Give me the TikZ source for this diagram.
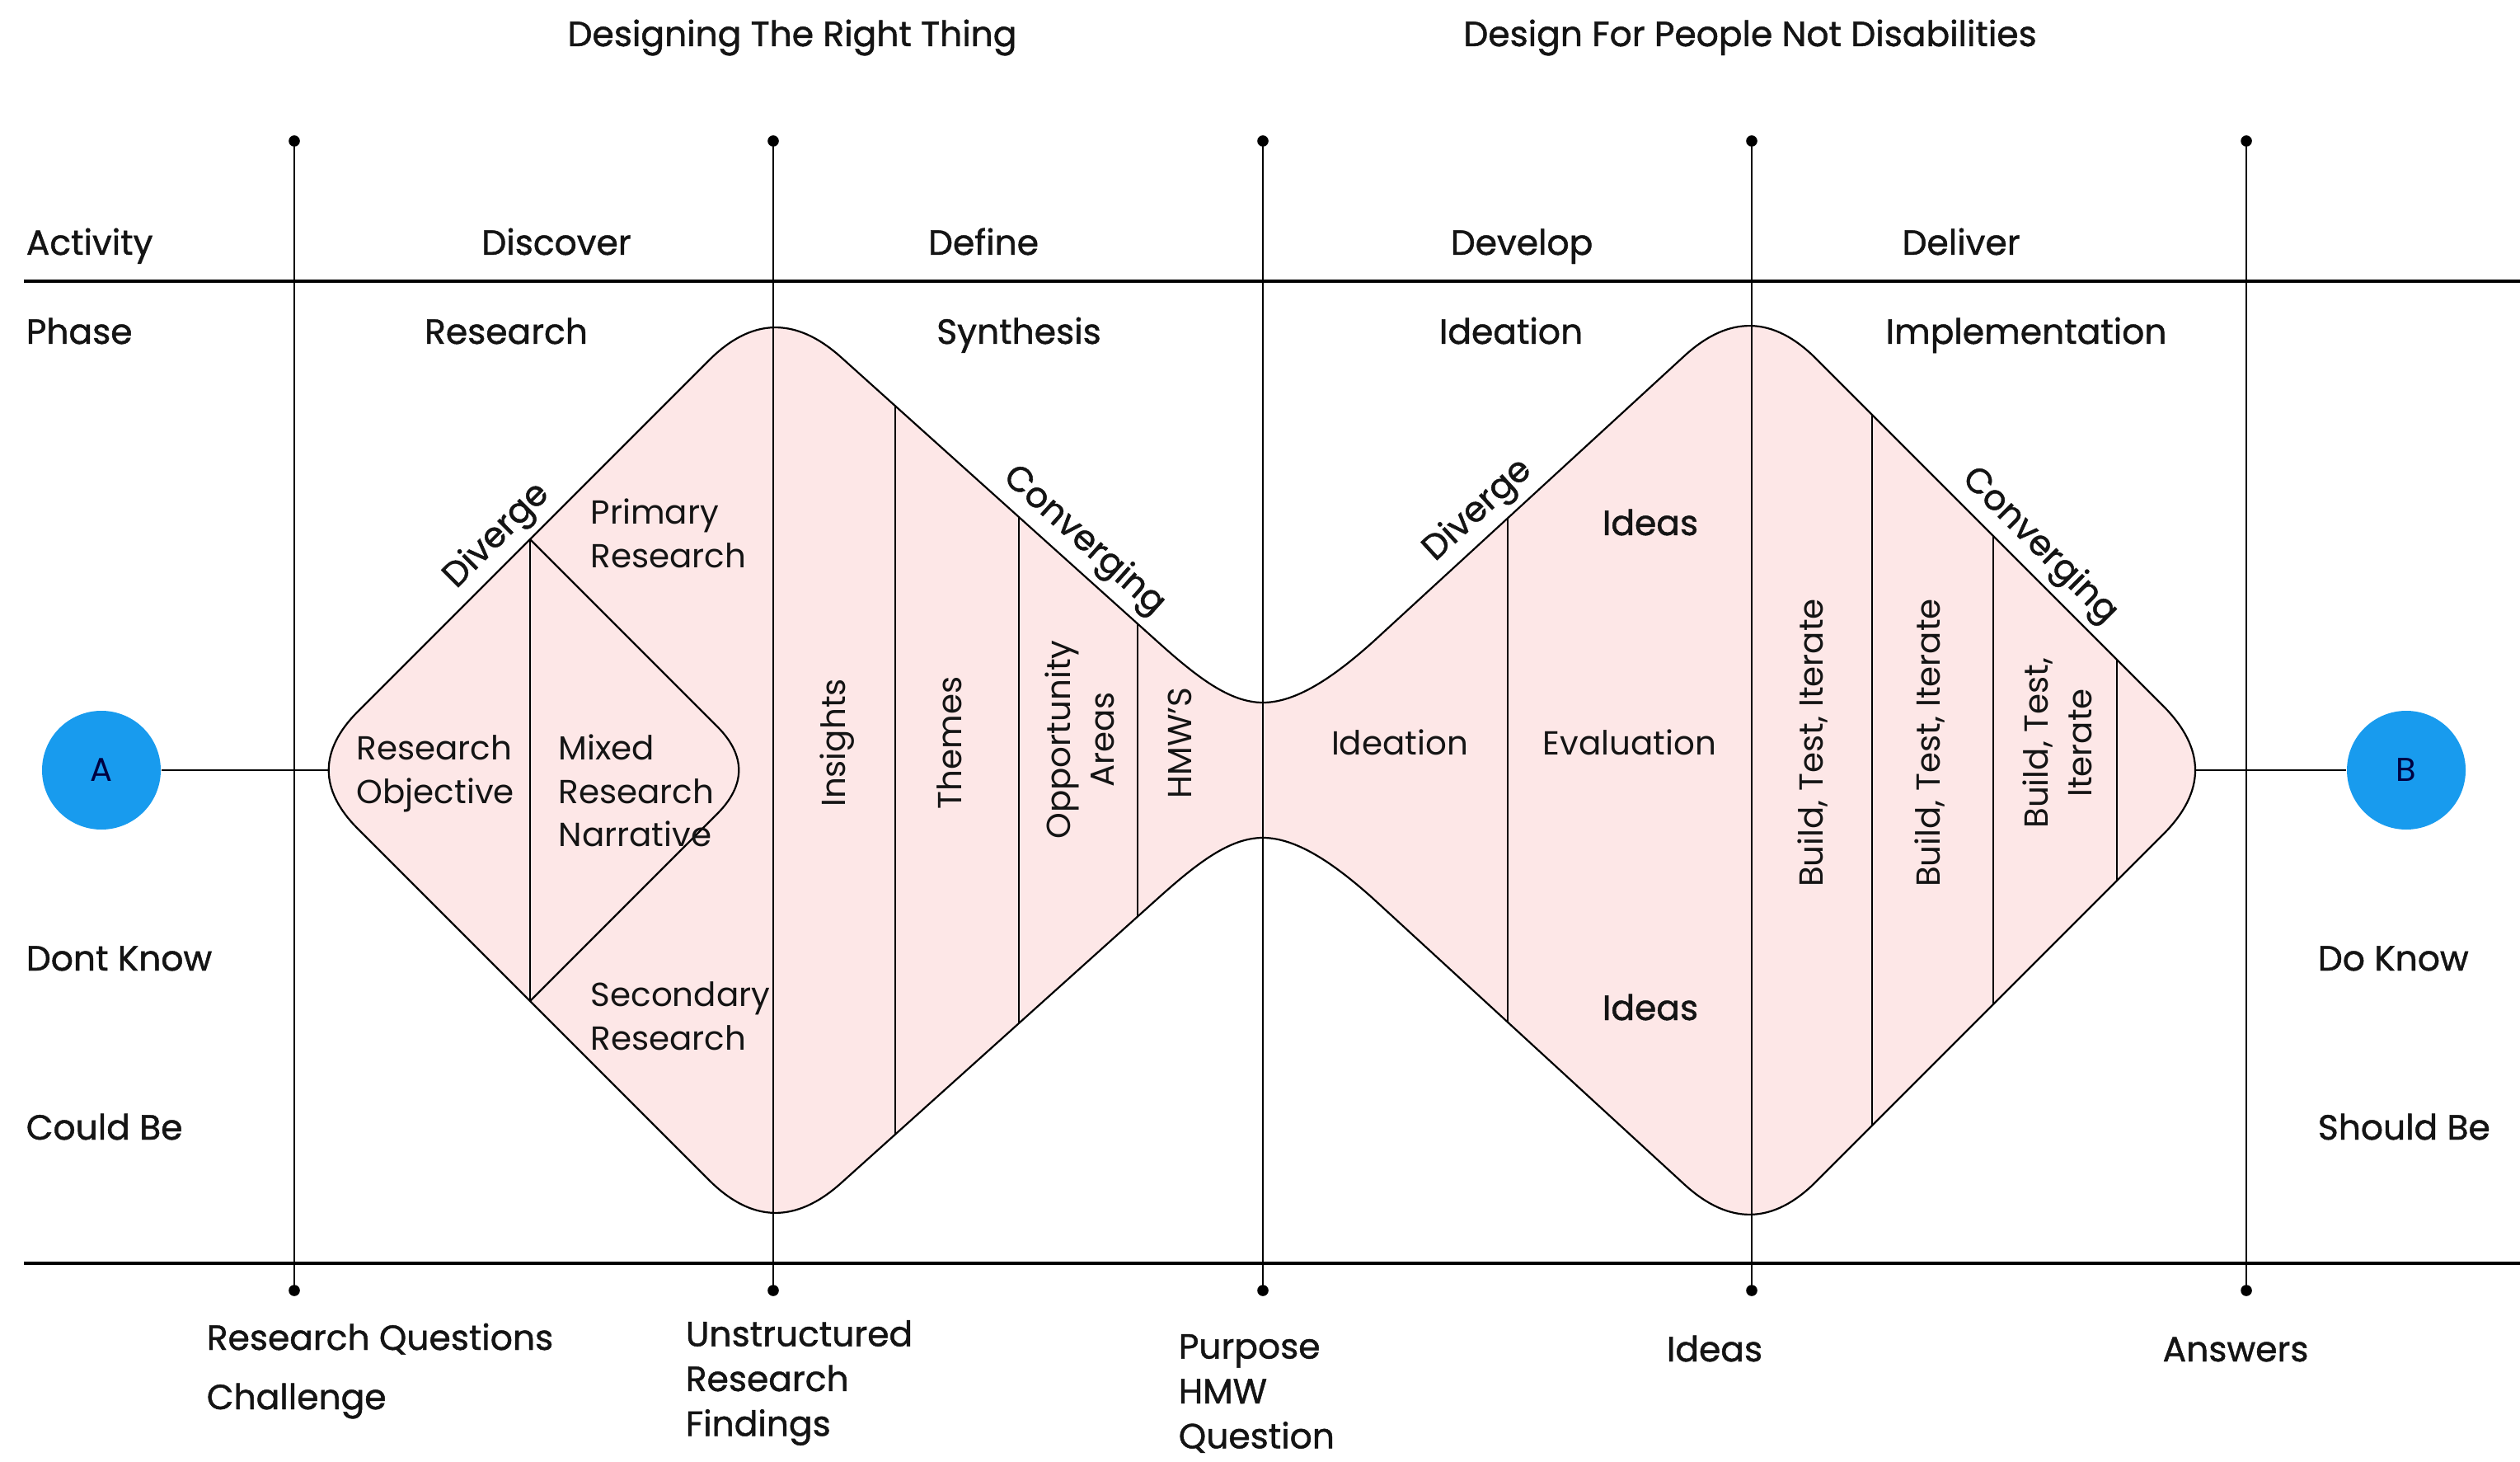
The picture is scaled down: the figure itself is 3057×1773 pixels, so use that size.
\documentclass[tikz,border=0pt]{standalone}
\usepackage{fontspec}
\setmainfont{Poppins}
\newfontfamily\headfont{Poppins}[FakeBold=1.1]
\usetikzlibrary{calc}
\definecolor{pinkfill}{RGB}{253,231,231}
\definecolor{dotblue}{RGB}{24,155,238}
\definecolor{ink}{RGB}{20,20,20}
\tikzset{
  lbl/.style={font=\fontsize{10.1}{13.2}\selectfont, inner sep=0pt, text=ink},
  head/.style={font=\headfont\fontsize{10.6}{13.2}\selectfont, inner sep=0pt, text=ink},
  hb/.style={head, anchor=base},
  hbw/.style={head, anchor=base west},
  vlbl/.style={lbl, rotate=90, align=center},
  thin/.style={line width=0.55pt, black},
  rule/.style={line width=0.9pt, black},
  enddot/.style={circle, fill=black, inner sep=0pt, minimum size=3.4pt},
  endpt/.style={font=\fontsize{10}{12}\selectfont, inner sep=0pt, circle, fill=dotblue, minimum size=36pt, text=black!75!blue}
}
\begin{document}
\begin{tikzpicture}[x=0.25pt,y=-0.25pt]
\useasboundingbox (0,0) rectangle (3057,1773);
\fill[white] (0,0) rectangle (3057,1773);

% pink double diamond fill
\path[fill=pinkfill] (434,1005) .. controls (387,958) and (387,910) .. (434,863) -- (860,437)
  .. controls (912,385) and (965,384) .. (1020,433) -- (1404,778)
  .. controls (1453,822) and (1492,852) .. (1532,852)
  .. controls (1572,852) and (1617,822) .. (1666,778) -- (2044,431)
  .. controls (2098,382) and (2151,383) .. (2203,435) -- (2624,856)
  .. controls (2676,908) and (2676,960) .. (2624,1012) -- (2203,1433)
  .. controls (2151,1485) and (2098,1486) .. (2044,1437) -- (1666,1090)
  .. controls (1617,1046) and (1572,1016) .. (1532,1016)
  .. controls (1492,1016) and (1453,1046) .. (1404,1090) -- (1020,1435)
  .. controls (965,1484) and (912,1483) .. (860,1431) -- cycle;

% horizontal rules
\coordinate (r1a) at (29,341);  \coordinate (r1b) at (3057,341);
\coordinate (r2a) at (29,1532); \coordinate (r2b) at (3057,1532);
\draw[rule] (r1a) -- (r1b);
\draw[rule] (r2a) -- (r2b);

% main dividers with end dots
\foreach \n/\x in {d1/357,d2/938,d3/1532,d4/2125,d5/2725}{
  \node[enddot] (\n t) at (\x,171) {};
  \node[enddot] (\n b) at (\x,1565) {};
  \draw[thin] (\n t.center) -- (\n b.center);
}

% outline
\draw[thin] (434,1005) .. controls (387,958) and (387,910) .. (434,863) -- (860,437)
  .. controls (912,385) and (965,384) .. (1020,433) -- (1404,778)
  .. controls (1453,822) and (1492,852) .. (1532,852)
  .. controls (1572,852) and (1617,822) .. (1666,778) -- (2044,431)
  .. controls (2098,382) and (2151,383) .. (2203,435) -- (2624,856)
  .. controls (2676,908) and (2676,960) .. (2624,1012) -- (2203,1433)
  .. controls (2151,1485) and (2098,1486) .. (2044,1437) -- (1666,1090)
  .. controls (1617,1046) and (1572,1016) .. (1532,1016)
  .. controls (1492,1016) and (1453,1046) .. (1404,1090) -- (1020,1435)
  .. controls (965,1484) and (912,1483) .. (860,1431) -- cycle;

% inner diamond
\coordinate (idt) at (643,654);
\coordinate (idb) at (643,1214);
\draw[thin] (idt) -- (idb);
\draw[thin] (idt) -- (870,881) .. controls (905,916) and (905,952) .. (870,987) -- (idb);

% column lines
\foreach \x/\a/\b in {1086/492/1376, 1236/627/1241, 1380/756/1112, 1829/628/1240, 2271/503/1365, 2418/650/1218, 2568/800/1068}{
  \draw[thin] (\x,\a) -- (\x,\b);
}

% start / end
\node[endpt] (A) at (123,934) {A};
\node[endpt] (B) at (2919,934) {B};
\coordinate (ltip) at (399,934);
\coordinate (rtip) at (2663,934);
\draw[thin] (A) -- (ltip);
\draw[thin] (rtip) -- (B);

% titles
\node[hb] (t1) at (961,56) {Designing The Right Thing};
\node[hb] (t2) at (2123,56) {Design For People Not Disabilities};

% row labels
\node[hbw] (act) at (31,309) {Activity};
\node[hb] (disc) at (675,309) {Discover};
\node[hb] (defi) at (1193,309) {Define};
\node[hb] (deve) at (1846,309) {Develop};
\node[hb] (deli) at (2379,309) {Deliver};
\node[hbw] (pha) at (31,417) {Phase};
\node[hb] (res) at (614,417) {Research};
\node[hb] (syn) at (1236,417) {Synthesis};
\node[hb] (ide) at (1833,417) {Ideation};
\node[hb] (imp) at (2458,417) {Implementation};
\node[hbw] (dk) at (31,1177) {Dont Know};
\node[hbw] (cb) at (31,1382) {Could Be};
\node[hbw] (dok) at (2811,1177) {Do Know};
\node[hbw] (sb) at (2811,1382) {Should Be};

% bottom labels
\node[hbw] (rq) at (250,1637) {Research Questions};
\node[hbw] (ch) at (250,1709) {Challenge};
\node[head, anchor=west, align=left, font=\headfont\fontsize{10.6}{13.6}\selectfont] (urf) at (831,1677) {Unstructured\\Research\\Findings};
\node[head, anchor=west, align=left, font=\headfont\fontsize{10.6}{13.6}\selectfont] (phq) at (1429,1690) {Purpose\\HMW\\Question};
\node[hb] (ideasb) at (2080,1651) {Ideas};
\node[hb] (ans) at (2712,1651) {Answers};

% slanted labels
\node[head, rotate=45, anchor=south, inner sep=2pt] (div1) at (625,672) {Diverge};
\node[head, rotate=-41.9, anchor=south, inner sep=2pt] (con1) at (1294,679) {Converging};
\node[head, rotate=42.5, anchor=south, inner sep=2pt] (div2) at (1814,642) {Diverge};
\node[head, rotate=-45, anchor=south, inner sep=2pt] (con2) at (2452,684) {Converging};

% inner labels, discover
\node[lbl, anchor=west, align=left] (prim) at (716,647) {Primary\\Research};
\node[lbl, anchor=west, align=left] (robj) at (432,938) {Research\\Objective};
\node[lbl, anchor=west, align=left] (mix) at (677,959) {Mixed\\Research\\Narrative};
\node[lbl, anchor=west, align=left] (sec) at (716,1232) {Secondary\\Research};

% define
\node[vlbl] (ins) at (1016,901) {Insights};
\node[vlbl] (the) at (1152,901) {Themes};
\node[vlbl] (opp) at (1310,897) {Opportunity\\Areas};
\node[vlbl] (hmw) at (1431,901) {HMW’S};

% develop
\node[hb] (ideas1) at (2002,649) {Ideas};
\node[lbl, anchor=base] (idea) at (1698,915) {Ideation};
\node[lbl, anchor=base] (eval) at (1977,915) {Evaluation};
\node[hb] (ideas2) at (2002,1237) {Ideas};

% deliver
\node[vlbl] (bti1) at (2199,901) {Build, Test, Iterate};
\node[vlbl] (bti2) at (2341,901) {Build, Test, Iterate};
\node[vlbl] (bti3) at (2496,901) {Build, Test,\\Iterate};
\end{tikzpicture}
\end{document}
